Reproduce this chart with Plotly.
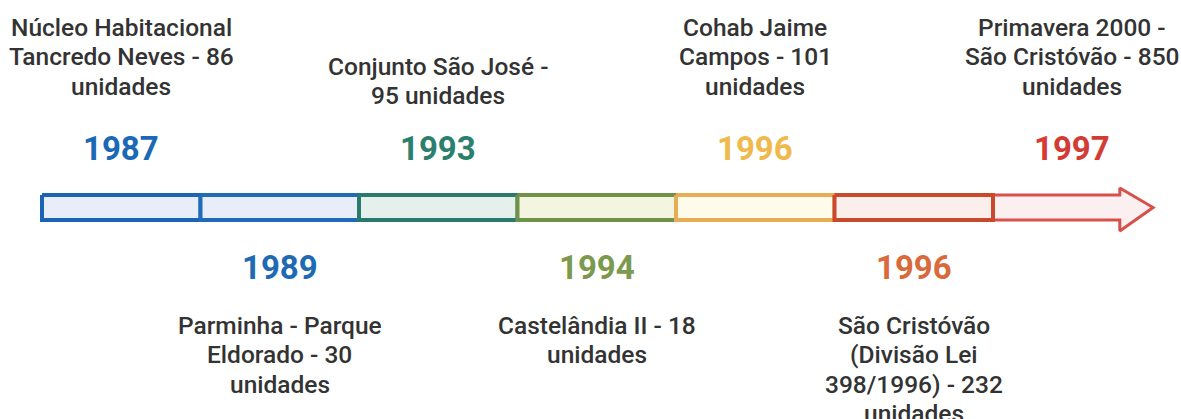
import plotly.graph_objects as go

# ---- data ----
years = [1987, 1989, 1993, 1994, 1996, 1996, 1997]
units = [86, 30, 95, 18, 101, 232, 850]
labels = [
    "Núcleo Habitacional<br>Tancredo Neves - 86<br>unidades",
    "Parminha - Parque<br>Eldorado - 30<br>unidades",
    "Conjunto São José -<br>95 unidades",
    "Castelândia II - 18<br>unidades",
    "Cohab Jaime<br>Campos - 101<br>unidades",
    "São Cristóvão<br>(Divisão Lei<br>398/1996) - 232<br>unidades",
    "Primavera 2000 -<br>São Cristóvão - 850<br>unidades",
]
year_colors = ["#1b68b4", "#1e6bb4", "#2c7f6f", "#7b9a4e", "#f0b94c", "#d96a3b", "#d23c34"]
seg_line = ["#1b63b3", "#1f6bb7", "#2a7a6b", "#6f9249", "#e6ad55", "#c9492d", "#d6514c"]
seg_fill = ["#e7eefa", "#e7eefa", "#e5efec", "#f4f5e1", "#fefbea", "#fbeeeb", "#fbefef"]

# ---- layout constants (pixel-like y scale) ----
W, H = 1181, 419
x0_px, unit_px = 42, 158.5
bar_top, bar_bot = 195, 220
bar_mid = (bar_top + bar_bot) / 2
head_top, head_bot = 188, 231
shaft_end, tip = 6.80, 7.01
line_pitch = 29.5
top_first_line = {3: 27, 2: 66}
bottom_first_line = 325
top_year_y, bottom_year_y = 148, 267

fig = go.Figure()

n = len(years)
order = [n - 1] + list(range(n - 1))
for i in order:
    if i < n - 1:
        xs = [i, i + 1, i + 1, i, i]
        ys = [bar_top, bar_top, bar_bot, bar_bot, bar_top]
        lw = 4
    else:
        xs = [i, shaft_end, shaft_end, tip, shaft_end, shaft_end, i, i]
        ys = [bar_top, bar_top, head_top, bar_mid, head_bot, bar_bot, bar_bot, bar_top]
        lw = 3
    fig.add_trace(go.Scatter(
        x=xs, y=ys, mode="lines", fill="toself",
        fillcolor=seg_fill[i], line=dict(color=seg_line[i], width=lw),
        hoverinfo="skip", showlegend=False,
    ))

for i, (yr, lab) in enumerate(zip(years, labels)):
    cx = i + 0.5
    top = (i % 2 == 0)
    fig.add_annotation(
        x=cx, y=top_year_y if top else bottom_year_y, text=f"<b>{yr}</b>", showarrow=False,
        xanchor="center", yanchor="middle",
        font=dict(family="Roboto", size=33, color=year_colors[i]),
    )
    lines = lab.split("<br>")
    y0 = top_first_line[len(lines)] if top else bottom_first_line
    for k, ln in enumerate(lines):
        fig.add_annotation(
            x=cx, y=y0 + k * line_pitch, text=ln, showarrow=False,
            xanchor="center", yanchor="middle", align="center",
            font=dict(family="Roboto", size=24.5, color="#333333", weight=500),
        )

fig.update_layout(
    width=W, height=H,
    margin=dict(l=0, r=0, t=0, b=0),
    paper_bgcolor="white", plot_bgcolor="white",
    xaxis=dict(range=[-x0_px / unit_px, (W - x0_px) / unit_px], visible=False, fixedrange=True),
    yaxis=dict(range=[H, 0], visible=False, fixedrange=True),
    showlegend=False,
)

fig.write_html(
    "out.html",
    config={"displayModeBar": False, "staticPlot": True},
    post_script="document.body.style.margin='0';document.body.style.overflow='hidden';",
)
